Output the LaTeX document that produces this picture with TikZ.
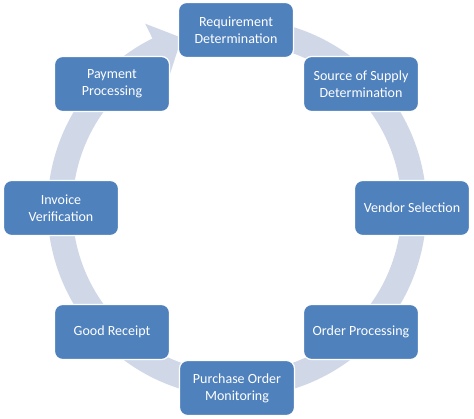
\documentclass[tikz,border=0pt]{standalone}
\usepackage{fontspec}
\setmainfont{Carlito}
\definecolor{boxblue}{HTML}{4F81BD}
\definecolor{ringcol}{HTML}{D0D8E8}
\begin{document}
\begin{tikzpicture}[x=1pt,y=1pt,
  stagebox/.style={draw=white, line width=1.2pt, fill=boxblue, rounded corners=8pt,
    minimum width=115pt, minimum height=55pt, text=white, align=center,
    font=\fontsize{14}{17}\selectfont, inner sep=2pt},
  ringband/.style={draw=ringcol, line width=25pt}]
\useasboundingbox (0,0) rectangle (474,418);
\coordinate (c) at (237,210);
% ring arrow
\draw[ringband] ([shift={(c)}]80:177) arc[start angle=80, end angle=-244, radius=177];
\fill[ringcol] ([shift={(c)}]116.5:150) -- ([shift={(c)}]108:179) -- ([shift={(c)}]116.5:206) -- cycle;
% stages
\node[stagebox] (req) at (236,388) {Requirement\\Determination};
\node[stagebox] (sos) at (361,334) {Source of Supply\\Determination};
\node[stagebox] (ven) at (412,210) {Vendor Selection};
\node[stagebox] (ord) at (361,86) {Order Processing};
\node[stagebox] (pom) at (237,30) {Purchase Order\\Monitoring};
\node[stagebox] (gr) at (112,86) {Good Receipt};
\node[stagebox] (inv) at (61,210) {Invoice\\Verification};
\node[stagebox] (pay) at (112,334) {Payment\\Processing};
\end{tikzpicture}
\end{document}
